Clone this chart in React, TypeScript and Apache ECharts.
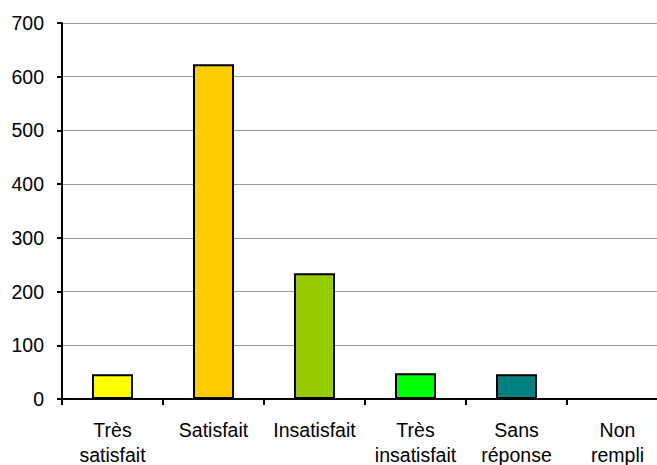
import React, { useEffect, useRef } from "react";
import * as echarts from "echarts";

const categories = ["Très\nsatisfait", "Satisfait", "Insatisfait", "Très\ninsatisfait", "Sans\nréponse", "Non\nrempli"];
const values = [46, 623, 234, 48, 46, 0];
const barColors = ["#FFFF00", "#FFCC00", "#99CC00", "#00FF00", "#008080", "#FFFFFF"];
const yTicks = [0, 100, 200, 300, 400, 500, 600, 700];

export default function App() {
  const ref = useRef<HTMLDivElement>(null);
  useEffect(() => {
    if (!ref.current) return;
    const chart = echarts.init(ref.current, null, { renderer: "svg" });
    chart.setOption({
      animation: false,
      backgroundColor: "#ffffff",
      grid: { left: 62, top: 23, width: 606, height: 376, containLabel: false, outerBoundsMode: "none" },
      xAxis: {
        type: "category",
        data: categories,
        axisLine: { show: true, lineStyle: { color: "#000", width: 2 } },
        axisTick: { show: true, alignWithLabel: false, length: 6, lineStyle: { color: "#000", width: 2 } },
        axisLabel: {
          color: "#000",
          fontFamily: "Liberation Sans, Arial, sans-serif",
          fontSize: 19.5,
          lineHeight: 25,
          margin: 18,
          interval: 0,
        },
      },
      yAxis: {
        type: "value",
        min: yTicks[0],
        max: yTicks[yTicks.length - 1],
        interval: 100,
        axisLine: { show: true, lineStyle: { color: "#000", width: 2 } },
        axisTick: { show: true, length: 5, lineStyle: { color: "#000", width: 2 } },
        axisLabel: {
          color: "#000",
          fontFamily: "Liberation Sans, Arial, sans-serif",
          fontSize: 19.5,
          margin: 18,
        },
        splitLine: { show: true, lineStyle: { color: "#999", width: 1 } },
      },
      series: [
        {
          type: "bar",
          data: values.map((v, i) => ({
            value: v,
            itemStyle: { color: barColors[i], borderColor: "#000", borderWidth: v > 0 ? 2 : 0 },
          })),
          barWidth: 41,
        },
      ],
    });
    return () => chart.dispose();
  }, []);
  return (
    <div
      ref={ref}
      style={{ position: "fixed", left: 0, top: 0, width: 657, height: 465 }}
    />
  );
}
